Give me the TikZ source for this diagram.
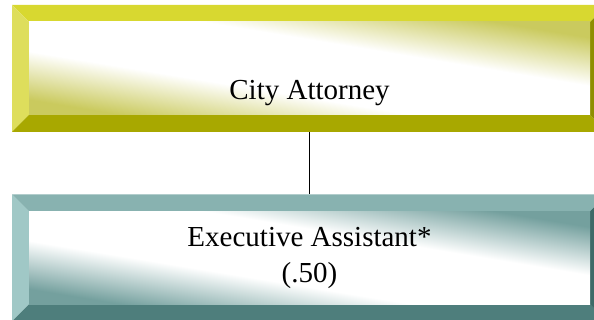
\documentclass[tikz,border=0pt]{standalone}
\usepackage{fontspec}
\setmainfont{Liberation Serif}
\usetikzlibrary{positioning}

\definecolor{ylwtop}{HTML}{D8D830}
\definecolor{ylwleft}{HTML}{DEDE5C}
\definecolor{ylwbot}{HTML}{A8A800}
\definecolor{ylwright}{HTML}{8E8E00}
\definecolor{ylwglow}{HTML}{CACA5E}
\definecolor{tealtop}{HTML}{88B2B0}
\definecolor{tealleft}{HTML}{A0C8C6}
\definecolor{tealbot}{HTML}{4E7E7C}
\definecolor{tealright}{HTML}{3E6A68}
\definecolor{tealglow}{HTML}{74A09E}

\pgfdeclareverticalshading{ylwshade}{100bp}{color(0bp)=(ylwglow); color(26bp)=(ylwglow); color(41bp)=(white); color(59bp)=(white); color(74bp)=(ylwglow); color(100bp)=(ylwglow)}
\pgfdeclareverticalshading{tealshade}{100bp}{color(0bp)=(tealglow); color(26bp)=(tealglow); color(41bp)=(white); color(59bp)=(white); color(74bp)=(tealglow); color(100bp)=(tealglow)}

\newcommand{\bw}{17pt}
% bevelled panel: top, left, bottom, right, inner shading
\newcommand{\bevelpic}[5]{%
  \coordinate (o1) at (path picture bounding box.south west);
  \coordinate (o2) at (path picture bounding box.south east);
  \coordinate (o3) at (path picture bounding box.north east);
  \coordinate (o4) at (path picture bounding box.north west);
  \coordinate (i1) at ([shift={(\bw,\bw)}]o1);
  \coordinate (i2) at ([shift={(-\bw,\bw)}]o2);
  \coordinate (i3) at ([shift={(-\bw,-\bw)}]o3);
  \coordinate (i4) at ([shift={(\bw,-\bw)}]o4);
  \fill[#1] (o4) -- (o3) -- (i3) -- (i4) -- cycle;
  \fill[#2] (o1) -- (o4) -- (i4) -- (i1) -- cycle;
  \fill[#3] (o1) -- (o2) -- (i2) -- (i1) -- cycle;
  \fill[#4] (o2) -- (o3) -- (i3) -- (i2) -- cycle;
  \shade[shading=#5, shading angle=-9.4] (i1) rectangle (i3);
}

\tikzset{
  panel/.style={rectangle, minimum width=595pt, minimum height=127pt, inner sep=0pt,
    font=\fontsize{29}{36}\selectfont, align=center},
  ylwpanel/.style={panel, path picture={\bevelpic{ylwtop}{ylwleft}{ylwbot}{ylwright}{ylwshade}}},
  tealpanel/.style={panel, path picture={\bevelpic{tealtop}{tealleft}{tealbot}{tealright}{tealshade}}},
  link/.style={line width=1.6pt, black}
}

\begin{document}
\begin{tikzpicture}[x=1pt,y=1pt]
  \useasboundingbox (0,0) rectangle (594,320);

  \node[ylwpanel, text height=62pt, text depth=0pt] (attorney) at (309.5,251.5) {City Attorney};
  \node[tealpanel, below=62pt of attorney] (assistant) {Executive Assistant*\\(.50)};

  \draw[link] (attorney) -- (assistant);
\end{tikzpicture}
\end{document}
